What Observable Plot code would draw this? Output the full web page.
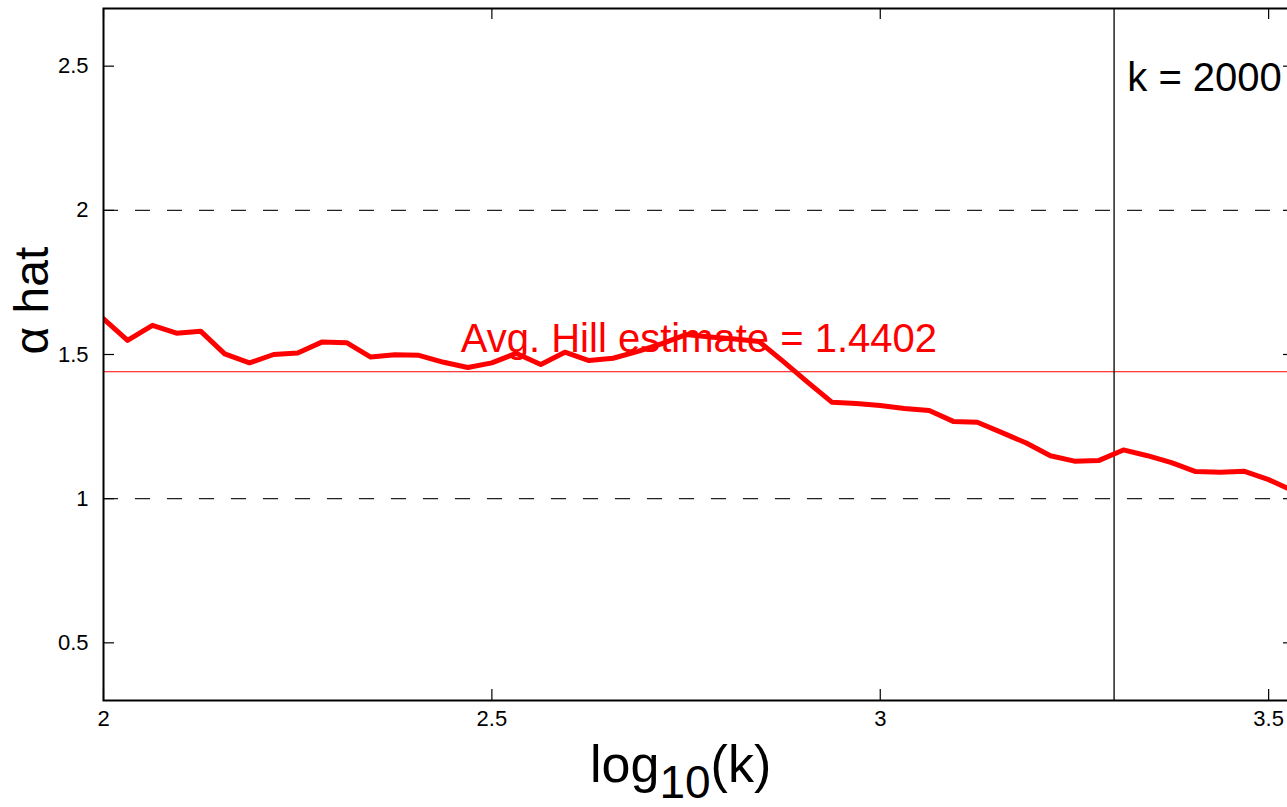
<!DOCTYPE html>
<html><head><meta charset="utf-8">
<script src="https://cdn.jsdelivr.net/npm/d3@7"></script>
<script src="https://cdn.jsdelivr.net/npm/@observablehq/plot@0.6"></script>
<style>html,body{margin:0;padding:0;overflow:hidden;background:#fff;} svg{display:block;max-width:none !important;}</style>
</head><body><div id="chart"></div>
<script>
// log10(k) sample positions
const logK = [2.000, 2.031, 2.063, 2.094, 2.125, 2.156, 2.188, 2.219, 2.250, 2.281,
  2.313, 2.344, 2.375, 2.406, 2.438, 2.469, 2.500, 2.531, 2.563, 2.594,
  2.625, 2.656, 2.688, 2.719, 2.750, 2.781, 2.813, 2.844, 2.875, 2.906,
  2.938, 2.969, 3.000, 3.031, 3.063, 3.094, 3.125, 3.156, 3.188, 3.219,
  3.250, 3.281, 3.313, 3.344, 3.375, 3.406, 3.438, 3.469, 3.500, 3.531];
// Hill estimates (alpha hat)
const alphaHat = [1.624, 1.549, 1.601, 1.574, 1.581, 1.502, 1.471, 1.500, 1.505, 1.543,
  1.541, 1.491, 1.499, 1.497, 1.473, 1.455, 1.471, 1.504, 1.465, 1.508,
  1.479, 1.487, 1.511, 1.538, 1.569, 1.561, 1.554, 1.545, 1.476, 1.405,
  1.334, 1.330, 1.323, 1.313, 1.306, 1.268, 1.265, 1.230, 1.193, 1.149,
  1.130, 1.132, 1.169, 1.149, 1.125, 1.094, 1.092, 1.095, 1.066, 1.028];
const xTicks = [2, 2.5, 3, 3.5];
const xTickLabels = ["2", "2.5", "3", "3.5"];
const yTicks = [0.5, 1, 1.5, 2, 2.5];
const yTickLabels = ["0.5", "1", "1.5", "2", "2.5"];
const refLevels = [1, 2];
const avgHill = 1.4402;
const kChosen = 2000;
const avgLabel = [{x: 2.46, y: 1.552, text: "Avg. Hill estimate = 1.4402"}];
const kLabel = [{x: 3.318, y: 2.459, text: "k = 2000"}];

const data = logK.map((x, i) => ({x, y: alphaHat[i]}));
const W = 1294, H = 807;
const mL = 103, mR = 0, mT = 8, mB = 107;
const plotW = W - mL - mR, plotH = H - mT - mB;
const font = "'Liberation Sans', Arial, Helvetica, sans-serif";

const plot = Plot.plot({
  width: W, height: H,
  marginLeft: mL, marginRight: mR, marginTop: mT, marginBottom: mB,
  x: {domain: [2, 3.5333], axis: null},
  y: {domain: [0.3, 2.7], axis: null},
  style: {fontFamily: font, background: "white", overflow: "visible", maxWidth: "none"},
  marks: [
    Plot.ruleY(refLevels, {stroke: "#222", strokeWidth: 1.4, strokeDasharray: "15,17"}),
    Plot.ruleY([avgHill], {stroke: "red", strokeWidth: 1}),
    Plot.ruleX([Math.log10(kChosen)], {stroke: "black", strokeWidth: 1.3}),
    Plot.line(data, {x: "x", y: "y", stroke: "red", strokeWidth: 5, clip: true}),
    // inward ticks
    Plot.ruleX(xTicks, {stroke: "black", strokeWidth: 1.2, insetTop: plotH - 11}),
    Plot.ruleX(xTicks, {stroke: "black", strokeWidth: 1.2, insetBottom: plotH - 11}),
    Plot.ruleY(yTicks, {stroke: "black", strokeWidth: 1.2, insetRight: plotW - 11}),
    Plot.ruleY(yTicks, {stroke: "black", strokeWidth: 1.2, insetLeft: plotW - 11}),
    Plot.frame({stroke: "black", strokeWidth: 2}),
    // tick labels
    Plot.text(xTicks, {x: d => d, frameAnchor: "bottom", dy: 25, text: (d, i) => xTickLabels[i], fontSize: 22, fill: "black"}),
    Plot.text(yTicks, {y: d => d, frameAnchor: "left", dx: -15, textAnchor: "end", text: (d, i) => yTickLabels[i], fontSize: 22, fill: "black"}),
    // annotations
    Plot.text(avgLabel, {x: "x", y: "y", text: "text", fill: "red", fontSize: 40, textAnchor: "start"}),
    Plot.text(kLabel, {x: "x", y: "y", text: "text", fill: "black", fontSize: 40, textAnchor: "start"}),
    // y-axis label
    Plot.text(["α hat"], {frameAnchor: "left", dx: -71, rotate: -90, fontSize: 48, fill: "black"})
  ]
});
plot.style.maxWidth = "none";

// x-axis label with subscript
const svg = d3.select(plot);
const xl = svg.append("text")
  .attr("x", 590)
  .attr("y", 782)
  .attr("text-anchor", "start")
  .attr("font-family", font)
  .attr("font-size", 52)
  .attr("fill", "black");
xl.append("tspan").text("log");
xl.append("tspan").attr("font-size", 46).attr("dy", 16).text("10");
xl.append("tspan").attr("dy", -16).text("(k)");

document.getElementById("chart").appendChild(plot);
</script>
</body></html>
